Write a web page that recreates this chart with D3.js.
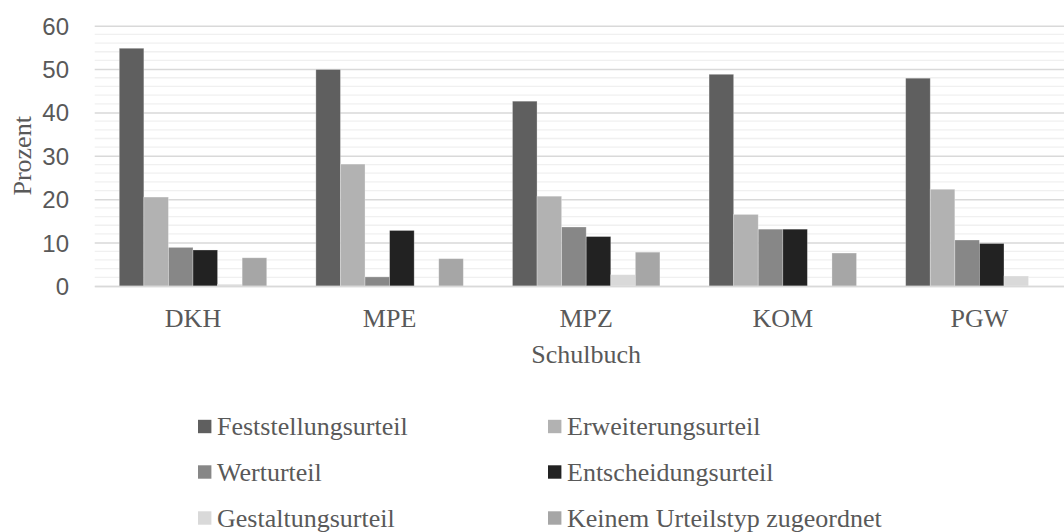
<!DOCTYPE html>
<html>
<head>
<meta charset="utf-8">
<script src="https://cdn.jsdelivr.net/npm/d3@7"></script>
<style>
  html, body { margin: 0; padding: 0; background: #ffffff; }
  svg { display: block; }
</style>
</head>
<body>
<div id="chart"></div>
<script>
// Schulbücher (x-axis groups)
const categories = ["DKH", "MPE", "MPZ", "KOM", "PGW"];

// Judgement types (series)
const seriesNames = [
  "Feststellungsurteil",
  "Erweiterungsurteil",
  "Werturteil",
  "Entscheidungsurteil",
  "Gestaltungsurteil",
  "Keinem Urteilstyp zugeordnet"
];

// Share in percent, one array per series, in category order
const feststellung = [54.8, 49.9, 42.6, 48.8, 47.9];
const erweiterung  = [20.5, 28.1, 20.7, 16.5, 22.3];
const wert         = [8.9, 2.1, 13.6, 13.1, 10.6];
const entscheidung = [8.3, 12.8, 11.4, 13.1, 9.8];
const gestaltung   = [0.4, 0, 2.6, 0, 2.3];
const keinem       = [6.5, 6.3, 7.8, 7.6, 0];

const seriesValues = [feststellung, erweiterung, wert, entscheidung, gestaltung, keinem];
const seriesColors = ["#5f5f5f", "#b2b2b2", "#878787", "#222222", "#d9d9d9", "#a6a6a6"];

const yTicks = [0, 10, 20, 30, 40, 50, 60];
const yMinor = d3.range(0, 61, 2);

const W = 1064, H = 532;
const plot = { left: 94.7, right: 1077.7, top: 25.7, bottom: 286 };

const svg = d3.select("#chart").append("svg")
  .attr("width", W).attr("height", H);

const x0 = d3.scaleBand()
  .domain(categories)
  .range([plot.left, plot.right])
  .paddingInner(0)
  .paddingOuter(0);

// bars fill 6/(6+2) of each group's slot (gap = two bar widths)
const groupPad = x0.bandwidth() * (2 / 8) / 2;
const x1 = d3.scaleBand()
  .domain(d3.range(seriesNames.length))
  .range([groupPad, x0.bandwidth() - groupPad])
  .padding(0);

const y = d3.scaleLinear().domain([0, 60]).range([plot.bottom, plot.top]);

// minor gridlines
svg.append("g")
  .selectAll("line")
  .data(yMinor.filter(v => v % 10 !== 0))
  .join("line")
  .attr("x1", plot.left).attr("x2", plot.right)
  .attr("y1", d => y(d)).attr("y2", d => y(d))
  .attr("stroke", "#f0f0f0").attr("stroke-width", 1.3);

// major gridlines via axis
const yAxis = d3.axisLeft(y)
  .tickValues(yTicks)
  .tickSize(-(plot.right - plot.left))
  .tickPadding(25.7)
  .tickFormat(d3.format("d"));

const gy = svg.append("g")
  .attr("transform", `translate(${plot.left},0)`)
  .call(yAxis);
gy.select(".domain").remove();
gy.selectAll(".tick line").attr("stroke", "#d9d9d9").attr("stroke-width", 1.5);
gy.selectAll(".tick text")
  .attr("fill", "#595959")
  .style("font-family", "'Liberation Sans', Arial, sans-serif")
  .style("font-size", "24px")
  .attr("dy", "0.35em");

// bars
const groups = svg.append("g")
  .selectAll("g")
  .data(categories)
  .join("g")
  .attr("transform", d => `translate(${x0(d)},0)`);

groups.selectAll("rect")
  .data((c, ci) => seriesValues.map((vals, si) => ({ si, v: vals[ci] })))
  .join("rect")
  .attr("x", d => x1(d.si))
  .attr("width", x1.bandwidth())
  .attr("y", d => y(d.v))
  .attr("height", d => y(0) - y(d.v))
  .attr("fill", d => seriesColors[d.si])
  .attr("stroke", d => d.v > 0 ? "rgba(255,255,255,0.35)" : "none")
  .attr("stroke-width", 0.8);

// x axis baseline and category labels
const xAxis = d3.axisBottom(x0).tickSize(0).tickPadding(0);
const gx = svg.append("g")
  .attr("transform", `translate(0,${plot.bottom})`)
  .call(xAxis);
gx.select(".domain").attr("stroke", "#d9d9d9").attr("stroke-width", 1.5);
gx.selectAll(".tick text")
  .attr("fill", "#595959")
  .attr("y", 41)
  .attr("dy", 0)
  .style("font-family", "'Liberation Serif', 'Times New Roman', serif")
  .style("font-size", "26px");

// axis titles
const serif = "'Liberation Serif', 'Times New Roman', serif";
svg.append("text")
  .attr("x", (plot.left + plot.right) / 2)
  .attr("y", 363)
  .attr("text-anchor", "middle")
  .attr("fill", "#595959")
  .style("font-family", serif)
  .style("font-size", "26px")
  .text("Schulbuch");

svg.append("text")
  .attr("transform", `translate(31,${(plot.top + plot.bottom) / 2}) rotate(-90)`)
  .attr("text-anchor", "middle")
  .attr("fill", "#595959")
  .style("font-family", serif)
  .style("font-size", "26px")
  .text("Prozent");

// legend: two columns, three rows
const legendCols = [198, 548];
const legendRows = [426.5, 472, 518];
const legend = svg.append("g")
  .selectAll("g")
  .data(seriesNames)
  .join("g")
  .attr("transform", (d, i) => `translate(${legendCols[i % 2]},${legendRows[Math.floor(i / 2)]})`);

legend.append("rect")
  .attr("x", 0).attr("y", -6.7)
  .attr("width", 13.4).attr("height", 13.4)
  .attr("fill", (d, i) => seriesColors[i]);

legend.append("text")
  .attr("x", 19)
  .attr("y", 8.5)
  .attr("fill", "#595959")
  .style("font-family", serif)
  .style("font-size", "26px")
  .text(d => d);
</script>
</body>
</html>
